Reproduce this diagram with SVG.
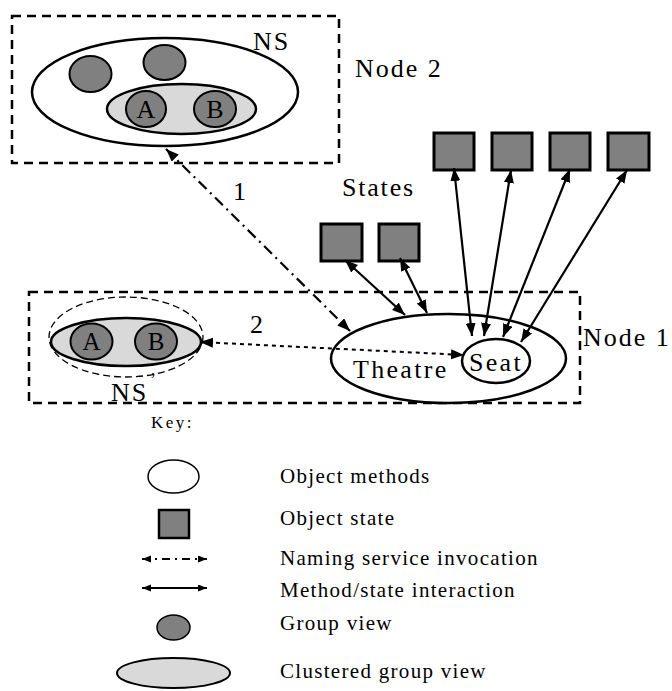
<svg xmlns="http://www.w3.org/2000/svg" width="672" height="691" viewBox="0 0 672 691">
<defs>
<marker id="ah" markerUnits="userSpaceOnUse" markerWidth="14" markerHeight="11" refX="13" refY="5" orient="auto-start-reverse">
<path d="M0,0 L13,5 L0,10 z" fill="#000"/>
</marker>
<marker id="ahs" markerUnits="userSpaceOnUse" markerWidth="10" markerHeight="8" refX="9" refY="3.5" orient="auto-start-reverse">
<path d="M0,0 L9,3.5 L0,7 z" fill="#000"/>
</marker>
<style>
text{font-family:"Liberation Serif","Times New Roman",serif;fill:#000}
.lbl{font-size:26px;letter-spacing:2px}
.key{font-size:21px;letter-spacing:1.3px}
.box{fill:none;stroke:#000;stroke-width:2.5;stroke-dasharray:9,6}
.ws{fill:#fff;stroke:#000;stroke-width:2.5}
.lg{fill:#d9d9d9;stroke:#000;stroke-width:2.5}
.dg{fill:#808080;stroke:#000;stroke-width:2}
.sq{fill:#808080;stroke:#000;stroke-width:3}
.ms{stroke:#000;stroke-width:2.2;fill:none;marker-start:url(#ah);marker-end:url(#ah)}
</style>
</defs>

<g id="node2">
<rect class="box" x="12" y="16" width="327" height="147"/>
<ellipse class="ws" cx="165" cy="92" rx="133" ry="54"/>
<ellipse class="dg" cx="90.5" cy="74" rx="21" ry="18"/>
<ellipse class="dg" cx="164.5" cy="62.5" rx="21" ry="17.5"/>
<ellipse class="lg" cx="181.5" cy="109" rx="74.5" ry="25"/>
<ellipse class="dg" cx="146" cy="109" rx="20" ry="18"/>
<ellipse class="dg" cx="215" cy="109" rx="21" ry="18"/>
<text x="146" y="118" text-anchor="middle" style="font-size:26px">A</text>
<text x="215" y="118" text-anchor="middle" style="font-size:26px">B</text>
<text class="lbl" x="253" y="50">NS</text>
<text class="lbl" x="355" y="77">Node 2</text>
</g>

<g id="node1">
<rect class="box" x="29" y="292" width="551" height="111"/>
<text class="lbl" x="583" y="346">Node 1</text>
</g>

<g id="ns-prime">
<ellipse cx="126" cy="337" rx="77" ry="40" fill="none" stroke="#000" stroke-width="1.3" stroke-dasharray="7,4"/>
<ellipse class="lg" cx="126" cy="342" rx="75" ry="24"/>
<ellipse class="dg" cx="91.5" cy="341.5" rx="21" ry="18"/>
<ellipse class="dg" cx="156" cy="341.5" rx="21" ry="18"/>
<text x="91.5" y="350" text-anchor="middle" style="font-size:25px">A</text>
<text x="156" y="350" text-anchor="middle" style="font-size:25px">B</text>
<text class="lbl" x="111" y="401">NS</text>
<text x="150" y="386" style="font-size:18px">’</text>
</g>

<g id="theatre">
<ellipse class="ws" cx="448.5" cy="358.5" rx="117.5" ry="44.5"/>
<text class="lbl" x="353" y="378" style="letter-spacing:2.3px">Theatre</text>
</g>

<g id="seat">
<ellipse class="ws" cx="496" cy="361" rx="34" ry="22"/>
<text class="lbl" x="469" y="371" style="letter-spacing:2.3px">Seat</text>
</g>

<g id="states">
<text class="lbl" x="342" y="196" style="letter-spacing:1.8px">States</text>
<rect class="sq" x="434" y="133" width="40" height="37"/>
<rect class="sq" x="492" y="133" width="40" height="37"/>
<rect class="sq" x="550" y="133" width="40" height="37"/>
<rect class="sq" x="608" y="133" width="41" height="37"/>
<rect class="sq" x="321" y="224" width="41" height="37"/>
<rect class="sq" x="379" y="224" width="40" height="37"/>
</g>

<g id="connectors">
<line class="ms" x1="454" y1="168" x2="472" y2="336"/>
<line class="ms" x1="511" y1="170" x2="484" y2="336"/>
<line class="ms" x1="570" y1="169" x2="503" y2="337"/>
<line class="ms" x1="627" y1="170" x2="521" y2="342"/>
<line class="ms" x1="345" y1="260" x2="405" y2="315"/>
<line class="ms" x1="400" y1="258" x2="427" y2="313"/>
<line x1="166" y1="149" x2="350" y2="331" stroke="#000" stroke-width="2.2" stroke-dasharray="11,5,2,5" marker-start="url(#ah)" marker-end="url(#ah)"/>
<line x1="200" y1="342" x2="464" y2="355" stroke="#000" stroke-width="2" stroke-dasharray="4,4" marker-start="url(#ah)" marker-end="url(#ah)"/>
<text class="lbl" x="233" y="200">1</text>
<text class="lbl" x="250" y="333">2</text>
</g>

<g id="key">
<text x="151" y="428" style="font-size:17px;letter-spacing:2.5px">Key:</text>
<ellipse cx="173.5" cy="476.5" rx="25.5" ry="16.5" fill="#fff" stroke="#000" stroke-width="1.5"/>
<rect x="159" y="510" width="30" height="28" fill="#808080" stroke="#000" stroke-width="2.5"/>
<line x1="142" y1="559" x2="207" y2="559" stroke="#000" stroke-width="2" stroke-dasharray="8,5,2,5" marker-start="url(#ahs)" marker-end="url(#ahs)"/>
<line x1="142" y1="588" x2="207" y2="588" stroke="#000" stroke-width="2" marker-start="url(#ahs)" marker-end="url(#ahs)"/>
<ellipse cx="173.5" cy="627.5" rx="16.5" ry="12.5" fill="#808080" stroke="#000" stroke-width="1.5"/>
<ellipse cx="173.5" cy="673" rx="56.5" ry="15" fill="#d9d9d9" stroke="#000" stroke-width="2"/>
<text class="key" x="280" y="483">Object methods</text>
<text class="key" x="280" y="525">Object state</text>
<text class="key" x="280" y="565">Naming service invocation</text>
<text class="key" x="280" y="597">Method/state interaction</text>
<text class="key" x="280" y="630">Group view</text>
<text class="key" x="280" y="678">Clustered group view</text>
</g>
</svg>
